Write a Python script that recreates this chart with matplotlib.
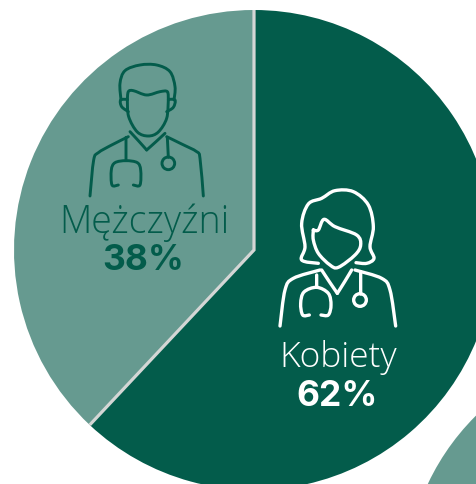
import numpy as np
import matplotlib
matplotlib.use('Agg')
import matplotlib.pyplot as plt
from matplotlib.path import Path
from matplotlib.patches import PathPatch, Circle

labels = ['Kobiety', 'Mężczyźni']
shares = [62, 38]
colors = ['#035c4b', '#669a90']

W, H = 477, 484
plt.rcParams['font.family'] = ['Open Sans', 'DejaVu Sans']

fig = plt.figure(figsize=(W / 100, H / 100), dpi=100)
ax = fig.add_axes([0, 0, 1, 1])

# kolejne koło, prawie poza kadrem
ax.pie([1], colors=[colors[1]], center=(645, H - 586), radius=240, frame=True)
ax.pie(shares, colors=colors, startangle=90, counterclock=False,
       center=(254, H - 250), radius=240, frame=True)
ax.set_xlim(0, W)
ax.set_ylim(0, H)
ax.set_aspect('equal')
ax.axis('off')

# linia między wycinkami
end = np.deg2rad(90 - shares[0] / sum(shares) * 360)
ax.plot([254, 254, 254 + 240 * np.cos(end)],
        [H - 10, H - 250, H - 250 + 240 * np.sin(end)],
        color='#d4d6d5', lw=2.3, solid_joinstyle='miter', solid_capstyle='butt')


# ikony: współrzędne z powiększenia 3x
def smooth(pts):
    pts = np.array(pts, float)
    p = np.vstack([pts[0], pts, pts[-1]])
    verts = [pts[0]]
    codes = [Path.MOVETO]
    for i in range(1, len(p) - 2):
        verts += [p[i] + (p[i + 1] - p[i - 1]) / 6,
                  p[i + 1] - (p[i + 2] - p[i]) / 6,
                  p[i + 1]]
        codes += [Path.CURVE4] * 3
    return verts, codes


def icon(strokes, rings, ox, oy, color, lw):
    for s in strokes:
        pts = [(ox + x / 3, H - (oy + y / 3)) for x, y in s]
        v, c = smooth(pts)
        ax.add_patch(PathPatch(Path(v, c), fill=False, edgecolor=color, lw=lw,
                               capstyle='round', joinstyle='round'))
    for x, y, r in rings:
        ax.add_patch(Circle((ox + x / 3, H - (oy + y / 3)), r / 3, fill=False,
                            edgecolor=color, lw=lw))


man = [
    [(213, 150), (210, 100), (225, 62), (270, 45), (320, 45), (360, 65), (375, 110), (372, 150)],
    [(232, 150), (235, 125), (250, 122), (290, 135), (330, 125), (352, 125), (355, 150)],
    [(232, 150), (236, 200), (262, 246), (295, 258), (325, 246), (350, 205), (355, 150)],
    [(232, 148), (212, 150), (215, 170), (235, 185)],
    [(355, 148), (375, 150), (370, 172), (350, 185)],
    [(240, 245), (265, 272), (290, 300)],
    [(290, 300), (318, 275), (345, 250)],
    [(235, 260), (185, 285), (145, 308), (131, 330), (120, 438)],
    [(350, 260), (395, 282), (440, 305), (450, 325), (460, 438)],
    [(228, 262), (228, 332)],
    [(205, 405), (186, 405), (184, 360), (195, 338), (228, 332), (262, 338), (272, 360), (270, 405), (250, 405)],
    [(352, 262), (355, 322)],
]
woman = [
    [(205, 250), (155, 240), (165, 200), (155, 130), (175, 72), (215, 55), (255, 32), (310, 35), (355, 75), (370, 140), (360, 200), (372, 235), (350, 250), (318, 248)],
    [(190, 150), (205, 150), (222, 118), (255, 140), (320, 165), (332, 195), (315, 225), (265, 262), (240, 255), (205, 220), (190, 180), (190, 150)],
    [(215, 270), (238, 305), (262, 340)],
    [(262, 340), (284, 305), (305, 270)],
    [(210, 270), (130, 295), (105, 330), (90, 438)],
    [(315, 270), (395, 295), (420, 330), (437, 438)],
    [(200, 285), (200, 322)],
    [(178, 405), (158, 405), (152, 370), (162, 336), (200, 322), (235, 340), (243, 375), (235, 405), (213, 405)],
    [(332, 275), (332, 342)],
]
icon(man, [(355, 340, 19)], 50, 50, colors[0], 2.1)
icon(woman, [(330, 360, 19)], 250, 180, 'white', 2.4)

# podpisy
ax.text(144, H - 233, labels[1], color=colors[0], fontsize=27, fontweight='light', ha='center', va='baseline')
ax.text(143, H - 270, f'{shares[1]}%', color=colors[0], fontsize=25.5, fontweight='bold', family=['Inter', 'DejaVu Sans'], ha='center', va='baseline')
ax.text(338, H - 367, labels[0], color='white', fontsize=25.5, fontweight='light', ha='center', va='baseline')
ax.text(337, H - 406, f'{shares[0]}%', color='white', fontsize=25.5, fontweight='bold', family=['Inter', 'DejaVu Sans'], ha='center', va='baseline')

fig.savefig('out.png', dpi=100)
